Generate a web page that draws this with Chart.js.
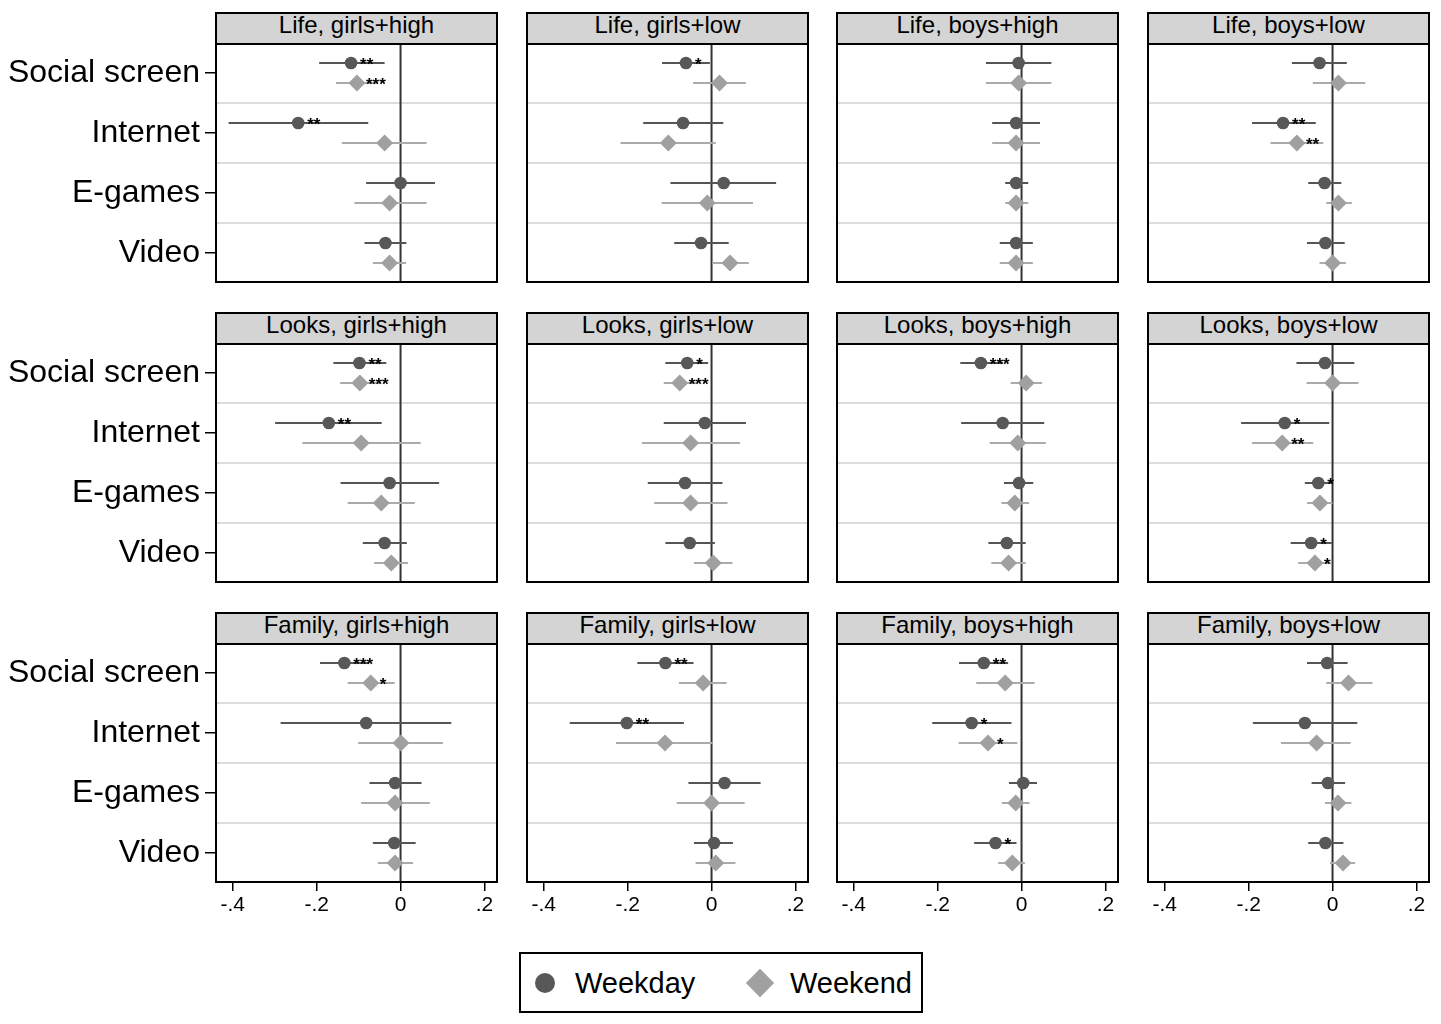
<!DOCTYPE html>
<html>
<head>
<meta charset="utf-8">
<script src="https://cdn.jsdelivr.net/npm/chart.js@4.4.1/dist/chart.umd.min.js"></script>
<style>
body { margin: 0; background: #fff; font-family: "Liberation Sans", Arial, sans-serif; }
#wrap { position: relative; width: 1441px; height: 1024px; overflow: hidden; }
canvas { position: absolute; }
.strip { position: absolute; box-sizing: border-box; border: 2px solid #000; background: #d4d4d4;
         text-align: center; font-size: 24px; line-height: 21px; color: #000; white-space: nowrap; }
#legend { position: absolute; left: 519px; top: 952px; width: 404px; height: 61px; box-sizing: border-box;
          border: 2px solid #000; background: #fff; }
.lg-text { position: absolute; font-size: 29px; line-height: 30px; top: 14px; color: #000; }
.dot { position: absolute; left: 14px; top: 19px; width: 20px; height: 20px; border-radius: 50%; background: #585858; }
.dia { position: absolute; left: 229px; top: 19px; width: 20px; height: 20px; background: #a0a0a0; transform: rotate(45deg); }
</style>
</head>
<body>
<div id="wrap">
  <div id="legend">
    <div class="dot"></div><span class="lg-text" style="left:54px">Weekday</span>
    <div class="dia"></div><span class="lg-text" style="left:269px">Weekend</span>
  </div>
</div>
<script>
// categorias e rótulos
const categories = ['Social screen', 'Internet', 'E-games', 'Video'];
const xTicks = [-0.4, -0.2, 0, 0.2];
const xTickLabels = ['-.4', '-.2', '0', '.2'];
const panelTitles = [
    'Life, girls+high', 'Life, girls+low', 'Life, boys+high', 'Life, boys+low',
    'Looks, girls+high', 'Looks, girls+low', 'Looks, boys+high', 'Looks, boys+low',
    'Family, girls+high', 'Family, girls+low', 'Family, boys+high', 'Family, boys+low'
];

// Weekday: estimativa, limite inferior, limite superior, estrelas
const weekdayEst = [
    [-0.118, -0.244, 0.000, -0.036],
    [-0.061, -0.068, 0.029, -0.025],
    [-0.007, -0.013, -0.013, -0.013],
    [-0.031, -0.118, -0.019, -0.017],
    [-0.098, -0.171, -0.026, -0.038],
    [-0.058, -0.016, -0.063, -0.052],
    [-0.097, -0.045, -0.006, -0.035],
    [-0.018, -0.114, -0.034, -0.051],
    [-0.134, -0.082, -0.013, -0.015],
    [-0.110, -0.202, 0.031, 0.006],
    [-0.090, -0.119, 0.004, -0.062],
    [-0.013, -0.066, -0.011, -0.017]
];
const weekdayLo = [
    [-0.194, -0.410, -0.082, -0.086],
    [-0.118, -0.163, -0.098, -0.089],
    [-0.085, -0.070, -0.039, -0.052],
    [-0.097, -0.192, -0.058, -0.061],
    [-0.160, -0.299, -0.143, -0.090],
    [-0.110, -0.114, -0.152, -0.110],
    [-0.146, -0.144, -0.042, -0.079],
    [-0.086, -0.218, -0.066, -0.100],
    [-0.192, -0.286, -0.074, -0.066],
    [-0.177, -0.338, -0.055, -0.042],
    [-0.149, -0.213, -0.030, -0.113],
    [-0.061, -0.190, -0.050, -0.058]
];
const weekdayHi = [
    [-0.038, -0.077, 0.082, 0.014],
    [-0.004, 0.028, 0.154, 0.041],
    [0.071, 0.044, 0.016, 0.027],
    [0.034, -0.040, 0.021, 0.029],
    [-0.034, -0.045, 0.092, 0.015],
    [-0.008, 0.082, 0.026, 0.008],
    [-0.044, 0.054, 0.028, 0.010],
    [0.052, -0.008, -0.002, -0.002],
    [-0.075, 0.121, 0.050, 0.036],
    [-0.043, -0.066, 0.117, 0.051],
    [-0.032, -0.024, 0.037, -0.012],
    [0.036, 0.059, 0.030, 0.026]
];
const weekdayStars = [
    ['**', '**', '', ''],
    ['*', '', '', ''],
    ['', '', '', ''],
    ['', '**', '', ''],
    ['**', '**', '', ''],
    ['*', '', '', ''],
    ['***', '', '', ''],
    ['', '*', '*', '*'],
    ['***', '', '', ''],
    ['**', '**', '', ''],
    ['**', '*', '', '*'],
    ['', '', '', '']
];

// Weekend
const weekendEst = [
    [-0.104, -0.038, -0.026, -0.026],
    [0.019, -0.103, -0.010, 0.044],
    [-0.007, -0.013, -0.013, -0.013],
    [0.014, -0.085, 0.014, 0.000],
    [-0.097, -0.094, -0.046, -0.022],
    [-0.076, -0.050, -0.050, 0.004],
    [0.011, -0.009, -0.016, -0.031],
    [0.000, -0.120, -0.030, -0.042],
    [-0.071, 0.001, -0.013, -0.013],
    [-0.020, -0.111, 0.000, 0.010],
    [-0.039, -0.080, -0.014, -0.022],
    [0.038, -0.038, 0.013, 0.025]
];
const weekendLo = [
    [-0.154, -0.140, -0.110, -0.066],
    [-0.044, -0.217, -0.119, 0.002],
    [-0.085, -0.070, -0.039, -0.052],
    [-0.047, -0.148, -0.015, -0.031],
    [-0.144, -0.234, -0.126, -0.063],
    [-0.114, -0.166, -0.137, -0.042],
    [-0.026, -0.076, -0.048, -0.072],
    [-0.062, -0.192, -0.061, -0.082],
    [-0.126, -0.101, -0.094, -0.054],
    [-0.078, -0.228, -0.083, -0.038],
    [-0.108, -0.150, -0.047, -0.056],
    [-0.015, -0.123, -0.018, -0.006]
];
const weekendHi = [
    [-0.054, 0.062, 0.062, 0.013],
    [0.082, 0.010, 0.099, 0.089],
    [0.071, 0.044, 0.016, 0.027],
    [0.078, -0.022, 0.046, 0.032],
    [-0.048, 0.048, 0.034, 0.018],
    [-0.036, 0.068, 0.038, 0.050],
    [0.049, 0.058, 0.018, 0.010],
    [0.062, -0.046, 0.000, -0.002],
    [-0.014, 0.101, 0.070, 0.030],
    [0.036, 0.003, 0.079, 0.057],
    [0.031, -0.010, 0.019, 0.008],
    [0.095, 0.043, 0.045, 0.054]
];
const weekendStars = [
    ['***', '', '', ''],
    ['', '', '', ''],
    ['', '', '', ''],
    ['', '**', '', ''],
    ['***', '', '', ''],
    ['***', '', '', ''],
    ['', '', '', ''],
    ['', '**', '', '*'],
    ['*', '', '', ''],
    ['', '', '', ''],
    ['', '*', '', ''],
    ['', '', '', '']
];

const FONT = '"Liberation Sans", Arial, sans-serif';
const colLeft = [216, 527, 837, 1148];
const rowTop = [44, 344, 644];
const plotW = 281, plotH = 238;
const pad = 3, xAxisH = 48, yAxisW = 216;
const offset = 0.167;

// desenha separadores, linha do zero, intervalos, estrelas e moldura
const panelPlugin = {
    id: 'panel',
    beforeDatasetsDraw(chart) {
        const { ctx, chartArea: a, scales: { x, y } } = chart;
        ctx.save();
        ctx.strokeStyle = '#dcdcdc';
        ctx.lineWidth = 2;
        for (let i = 1; i < categories.length; i++) {
            const py = y.getPixelForValue(i - 0.5);
            ctx.beginPath(); ctx.moveTo(a.left, py); ctx.lineTo(a.right, py); ctx.stroke();
        }
        const zx = x.getPixelForValue(0);
        ctx.strokeStyle = '#333';
        ctx.beginPath(); ctx.moveTo(zx, a.top); ctx.lineTo(zx, a.bottom); ctx.stroke();

        chart.data.datasets.forEach(ds => {
            ctx.strokeStyle = ds.ciColor;
            ctx.lineWidth = 2;
            ds.data.forEach((pt, i) => {
                const py = y.getPixelForValue(pt.y);
                ctx.beginPath();
                ctx.moveTo(x.getPixelForValue(ds.lo[i]), py);
                ctx.lineTo(x.getPixelForValue(ds.hi[i]), py);
                ctx.stroke();
            });
        });
        ctx.restore();
    },
    afterDatasetsDraw(chart) {
        const { ctx, chartArea: a, scales: { x, y } } = chart;
        ctx.save();
        ctx.fillStyle = '#000';
        ctx.font = 'bold 17px ' + FONT;
        ctx.textAlign = 'left';
        ctx.textBaseline = 'alphabetic';
        chart.data.datasets.forEach(ds => {
            ds.data.forEach((pt, i) => {
                if (!ds.stars[i]) return;
                ctx.fillText(ds.stars[i], x.getPixelForValue(pt.x) + 9, y.getPixelForValue(pt.y) + 7);
            });
        });
        ctx.strokeStyle = '#000';
        ctx.lineWidth = 2;
        ctx.strokeRect(a.left, a.top, a.right - a.left, a.bottom - a.top);
        ctx.restore();
    }
};

const wrap = document.getElementById('wrap');

panelTitles.forEach((title, p) => {
    const row = Math.floor(p / 4), col = p % 4;
    const showX = row === 2, showY = col === 0;

    const strip = document.createElement('div');
    strip.className = 'strip';
    strip.style.left = (colLeft[col] - 1) + 'px';
    strip.style.top = (rowTop[row] - 32) + 'px';
    strip.style.width = (plotW + 2) + 'px';
    strip.style.height = '33px';
    strip.textContent = title;
    wrap.appendChild(strip);

    const cv = document.createElement('canvas');
    const left = showY ? 0 : colLeft[col] - pad;
    const top = rowTop[row] - pad;
    const w = colLeft[col] + plotW + pad - left;
    const h = pad + plotH + (showX ? xAxisH : pad);
    cv.width = w; cv.height = h;
    cv.style.left = left + 'px';
    cv.style.top = top + 'px';
    cv.style.width = w + 'px';
    cv.style.height = h + 'px';
    wrap.appendChild(cv);

    new Chart(cv, {
        type: 'scatter',
        data: {
            datasets: [{
                label: 'Weekday',
                data: weekdayEst[p].map((v, i) => ({ x: v, y: i - offset })),
                lo: weekdayLo[p], hi: weekdayHi[p], stars: weekdayStars[p],
                ciColor: '#555555',
                pointStyle: 'circle',
                pointRadius: 6.3,
                backgroundColor: '#585858',
                borderWidth: 0
            }, {
                label: 'Weekend',
                data: weekendEst[p].map((v, i) => ({ x: v, y: i + offset })),
                lo: weekendLo[p], hi: weekendHi[p], stars: weekendStars[p],
                ciColor: '#ababab',
                pointStyle: 'rectRot',
                pointRadius: 8.5,
                backgroundColor: '#a0a0a0',
                borderWidth: 0
            }]
        },
        options: {
            responsive: false,
            animation: false,
            events: [],
            layout: {
                autoPadding: false,
                padding: { left: showY ? 0 : pad, top: pad, right: pad, bottom: showX ? 0 : pad }
            },
            plugins: { legend: { display: false }, tooltip: { enabled: false } },
            scales: {
                x: {
                    type: 'linear',
                    min: -0.44,
                    max: 0.23,
                    display: showX,
                    afterBuildTicks: axis => { axis.ticks = xTicks.map(v => ({ value: v })); },
                    afterFit: axis => {
                        axis.paddingLeft = 0; axis.paddingRight = 0;
                        if (showX) axis.height = xAxisH;
                    },
                    ticks: {
                        callback: v => xTickLabels[xTicks.indexOf(v)],
                        font: { size: 21, family: FONT },
                        color: '#000',
                        padding: 2,
                        maxRotation: 0,
                        autoSkip: false
                    },
                    grid: { drawOnChartArea: false, drawTicks: true, tickLength: 9, color: '#000', lineWidth: 1.5 },
                    border: { display: false }
                },
                y: {
                    type: 'linear',
                    min: -0.483,
                    max: 3.483,
                    reverse: true,
                    display: showY,
                    afterBuildTicks: axis => { axis.ticks = categories.map((c, i) => ({ value: i })); },
                    afterFit: axis => {
                        axis.paddingTop = 0; axis.paddingBottom = 0;
                        if (showY) axis.width = yAxisW;
                    },
                    ticks: {
                        callback: v => categories[v],
                        font: { size: 32, family: FONT },
                        color: '#000',
                        padding: 5,
                        autoSkip: false
                    },
                    grid: { drawOnChartArea: false, drawTicks: true, tickLength: 11, color: '#000', lineWidth: 1.5 },
                    border: { display: false }
                }
            }
        },
        plugins: [panelPlugin]
    });
});
</script>
</body>
</html>
